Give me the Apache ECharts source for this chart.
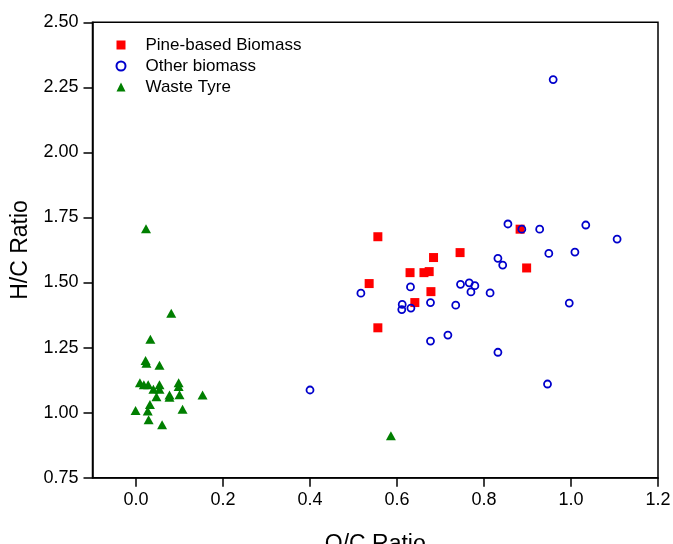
<!DOCTYPE html>
<html>
<head>
<meta charset="utf-8">
<script src="https://cdn.jsdelivr.net/npm/echarts@6/dist/echarts.min.js"></script>
<style>
html,body{margin:0;padding:0;background:#fff;}
#c{width:673px;height:544px;}
</style>
</head>
<body>
<div id="c"></div>
<script>
// O/C ratio (x) and H/C ratio (y) per series
const pineOC = [0.556, 0.684, 0.745, 0.630, 0.662, 0.674, 0.536, 0.678, 0.641, 0.556, 0.883, 0.898];
const pineHC = [1.676, 1.596, 1.615, 1.538, 1.538, 1.542, 1.496, 1.465, 1.423, 1.326, 1.705, 1.556];

const otherOC = [0.959, 0.517, 0.631, 0.612, 0.611, 0.632, 0.677, 0.735, 0.746, 0.766, 0.779, 0.770, 0.677, 0.717, 0.400, 0.855, 0.887, 0.928, 1.034, 1.106, 0.949, 1.009, 0.832, 0.843, 0.814, 0.996, 0.832, 0.946];
const otherHC = [2.280, 1.459, 1.483, 1.416, 1.396, 1.402, 1.423, 1.413, 1.493, 1.499, 1.488, 1.464, 1.275, 1.298, 1.087, 1.725, 1.705, 1.705, 1.721, 1.667, 1.612, 1.617, 1.593, 1.567, 1.460, 1.421, 1.232, 1.110];

const tyreOC = [0.023, 0.081, 0.033, 0.022, 0.024, 0.054, 0.009, 0.018, 0.028, 0.040, 0.054, 0.054, 0.098, 0.098, 0.047, 0.077, 0.077, 0.100, 0.153, 0.032, -0.001, 0.027, 0.107, 0.029, 0.060, 0.586];
const tyreHC = [1.707, 1.382, 1.282, 1.200, 1.190, 1.182, 1.115, 1.107, 1.107, 1.090, 1.107, 1.090, 1.115, 1.100, 1.061, 1.068, 1.059, 1.069, 1.068, 1.031, 1.008, 1.006, 1.013, 0.973, 0.953, 0.911];

const seriesNames = ['Pine-based Biomass', 'Other biomass', 'Waste Tyre'];
const xTickValues = [0.0, 0.2, 0.4, 0.6, 0.8, 1.0, 1.2];
const xRange = [-0.1, 1.2];
const yTickValues = [0.75, 1.00, 1.25, 1.50, 1.75, 2.00, 2.25, 2.50];

function pairs(xs, ys) { return xs.map((x, i) => [x, ys[i]]); }

const FONT = 'Arial, "Liberation Sans", sans-serif';
const chart = echarts.init(document.getElementById('c'), null, {renderer: 'canvas'});
chart.setOption({
  animation: false,
  backgroundColor: '#fff',
  grid: {
    left: 92.5, right: 15, top: 22.3, bottom: 66.3,
    outerBoundsMode: 'none', containLabel: false,
    show: true, borderColor: '#000', borderWidth: 1.5, backgroundColor: 'transparent'
  },
  legend: {
    orient: 'vertical',
    left: 110.5, top: 31.5,
    itemWidth: 9, itemHeight: 9, itemGap: 4,
    textStyle: {fontFamily: FONT, fontSize: 17, color: '#000', padding: [0, 0, 0, 15]},
    data: seriesNames
  },
  xAxis: {
    type: 'value',
    min: xRange[0], max: xRange[1],
    name: 'O/C Ratio', nameLocation: 'middle', nameGap: 55,
    nameTextStyle: {fontFamily: FONT, fontSize: 23, color: '#000'},
    axisLine: {show: true, onZero: false, lineStyle: {color: '#000', width: 1.5}},
    axisTick: {show: true, inside: false, length: 9, customValues: xTickValues, lineStyle: {color: '#000', width: 1.5}},
    axisLabel: {fontFamily: FONT, fontSize: 18, color: '#000', margin: 13, customValues: xTickValues,
      formatter: v => v.toFixed(1)},
    splitLine: {show: false}
  },
  yAxis: {
    type: 'value',
    min: yTickValues[0], max: yTickValues[yTickValues.length - 1], interval: 0.25,
    name: 'H/C Ratio', nameLocation: 'middle', nameGap: 57, nameRotate: 90,
    nameTextStyle: {fontFamily: FONT, fontSize: 23, color: '#000'},
    axisLine: {show: true, onZero: false, lineStyle: {color: '#000', width: 1.5}},
    axisTick: {show: true, inside: false, length: 9, lineStyle: {color: '#000', width: 1.5}},
    axisLabel: {fontFamily: FONT, fontSize: 18, color: '#000', margin: 14,
      formatter: v => v.toFixed(2)},
    splitLine: {show: false}
  },
  series: [
    {
      name: seriesNames[0], type: 'scatter', symbol: 'rect', symbolSize: 9,
      itemStyle: {color: '#ff0000', opacity: 1},
      data: pairs(pineOC, pineHC), z: 2
    },
    {
      name: seriesNames[1], type: 'scatter', symbol: 'circle', symbolSize: 7,
      itemStyle: {color: 'rgba(255,255,255,0)', borderColor: '#0000cc', borderWidth: 1.8, opacity: 1},
      data: pairs(otherOC, otherHC), z: 3
    },
    {
      name: seriesNames[2], type: 'scatter', symbol: 'triangle', symbolSize: [10, 9],
      itemStyle: {color: '#007f00', opacity: 1},
      data: pairs(tyreOC, tyreHC), z: 4
    }
  ]
});
</script>
</body>
</html>
